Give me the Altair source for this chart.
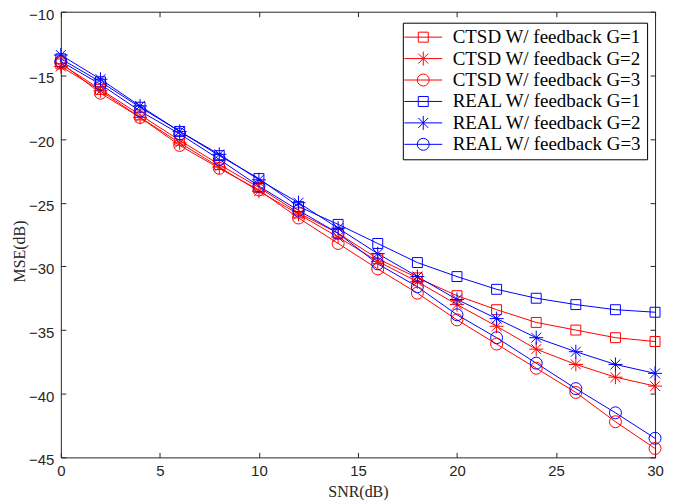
import altair as alt
import pandas as pd

snr = [0, 2, 4, 6, 8, 10, 12, 14, 16, 18, 20, 22, 24, 26, 28, 30]
ctsd_g1 = [-14.1, -16.1, -18.1, -20.1, -22.0, -23.8, -25.8, -27.4, -29.4, -30.9, -32.3, -33.4, -34.4, -35.0, -35.6, -35.9]
ctsd_g2 = [-14.3, -16.2, -18.3, -20.3, -22.2, -24.1, -25.9, -27.7, -29.6, -31.2, -33.0, -34.7, -36.5, -37.7, -38.7, -39.4]
ctsd_g3 = [-14.0, -16.4, -18.3, -20.5, -22.3, -24.0, -26.2, -28.2, -30.2, -32.1, -34.2, -36.1, -38.0, -39.9, -42.2, -44.3]
real_g1 = [-13.7, -15.5, -17.5, -19.4, -21.3, -23.1, -25.3, -26.7, -28.2, -29.7, -30.8, -31.8, -32.5, -33.0, -33.4, -33.6]
real_g2 = [-13.4, -15.3, -17.4, -19.4, -21.2, -23.2, -25.0, -27.0, -29.0, -30.8, -32.6, -34.1, -35.6, -36.7, -37.7, -38.4]
real_g3 = [-13.9, -15.7, -17.8, -19.6, -21.6, -23.7, -25.6, -27.4, -29.8, -31.6, -33.8, -35.6, -37.6, -39.6, -41.5, -43.5]

series_names = [
    "CTSD W/ feedback G=1",
    "CTSD W/ feedback G=2",
    "CTSD W/ feedback G=3",
    "REAL W/ feedback G=1",
    "REAL W/ feedback G=2",
    "REAL W/ feedback G=3",
]
series_g = [1, 2, 3, 1, 2, 3]
series_values = [ctsd_g1, ctsd_g2, ctsd_g3, real_g1, real_g2, real_g3]
series_colors = ["#ff0000", "#ff0000", "#ff0000", "#0000ff", "#0000ff", "#0000ff"]

x_ticks = [0, 5, 10, 15, 20, 25, 30]
y_ticks = [-45, -40, -35, -30, -25, -20, -15, -10]

rows = []
for name, g, vals in zip(series_names, series_g, series_values):
    for s, v in zip(snr, vals):
        rows.append({"snr": s, "mse": v, "series": name, "g": g})
df = pd.DataFrame(rows)

# marker paths (unit scaled by sqrt(size)/2), size 144 -> 6 px per unit
SQ = "M-0.83,-0.83L0.83,-0.83L0.83,0.83L-0.83,0.83Z"
ST = "M-1.17,0L1.17,0M0,-1.17L0,1.17M-0.83,-0.83L0.83,0.83M-0.83,0.83L0.83,-0.83"
CI = "M1,0A1,1,0,1,1,-1,0A1,1,0,1,1,1,0"
marker_by_g = {1: SQ, 2: ST, 3: CI}

# legend symbols: line + marker (symbolSize 100 -> 5 px per unit)
LSQ = "M-3.8,0L3.8,0M-1,-1L1,-1L1,1L-1,1Z"
LST = "M-3.8,0L3.8,0M0,-1.4L0,1.4M-1,-1L1,1M-1,1L1,-1"
LCI = "M-3.8,0L3.8,0M1.2,0A1.2,1.2,0,1,1,-1.2,0A1.2,1.2,0,1,1,1.2,0"
shape_expr = (
    "substring(datum.value, length(datum.value)-1) == '1' ? '" + LSQ + "' : "
    "(substring(datum.value, length(datum.value)-1) == '2' ? '" + LST + "' : '" + LCI + "')"
)

W, H = 596, 447

xscale = alt.Scale(domain=[0, 30], nice=False, zero=False)
yscale = alt.Scale(domain=[-45, -10], nice=False, zero=False)
color_scale = alt.Scale(domain=series_names, range=series_colors)

legend = alt.Legend(
    title=None,
    orient="none",
    legendX=343,
    legendY=11,
    symbolSize=100,
    symbolStrokeWidth=1,
    symbolType={"expr": shape_expr},
    symbolFillColor="transparent",
    symbolOffset=6,
    labelFont="Liberation Serif",
    labelFontSize=19,
    labelColor="#000000",
    labelOffset=20,
    labelLimit=300,
    strokeColor="#000000",
    fillColor="#ffffff",
    padding=5,
    rowPadding=1.5,
)

label_axis_x = alt.Axis(
    orient="bottom", values=x_ticks, tickSize=0, domain=False, grid=False, labelFlush=False,
    labelFont="Liberation Sans", labelFontSize=15, labelColor="#262626", labelPadding=6,
    title="SNR(dB)", titleFont="Liberation Serif", titleFontSize=16, titleFontWeight="normal",
    titleColor="#262626", titleY=34, titleBaseline="middle",
)
label_axis_y = alt.Axis(
    orient="left", values=y_ticks, tickSize=0, domain=False, grid=False, labelFlush=False,
    labelFont="Liberation Sans", labelFontSize=15, labelColor="#262626", labelPadding=7,
    labelOffset=2.5,
    title="MSE(dB)", titleFont="Liberation Serif", titleFontSize=16, titleFontWeight="normal",
    titleColor="#262626", titleX=-41, titleY=240, titleBaseline="middle", titleAlign="center",
)

lines = alt.Chart(df).mark_line(strokeWidth=1).encode(
    x=alt.X("snr:Q", scale=xscale, axis=label_axis_x),
    y=alt.Y("mse:Q", scale=yscale, axis=label_axis_y),
    color=alt.Color("series:N", scale=color_scale, legend=legend),
    detail="series:N",
)

point_layers = []
for g in [1, 2, 3]:
    point_layers.append(
        alt.Chart(df)
        .transform_filter(alt.datum.g == g)
        .mark_point(filled=False, strokeWidth=1, size=144, opacity=1, shape=marker_by_g[g])
        .encode(
            x=alt.X("snr:Q", scale=xscale, axis=None),
            y=alt.Y("mse:Q", scale=yscale, axis=None),
            stroke=alt.Stroke("series:N", scale=color_scale, legend=None),
        )
    )

tick_common = dict(labels=False, domain=False, grid=False, title=None, tickSize=5,
                   tickColor="#262626", tickWidth=1)

ticks_a = alt.Chart(df).mark_point(opacity=0).encode(
    x=alt.X("snr:Q", scale=xscale, axis=alt.Axis(orient="top", offset=-H, values=x_ticks, **tick_common)),
    y=alt.Y("mse:Q", scale=yscale, axis=alt.Axis(orient="right", offset=-W, values=y_ticks, **tick_common)),
)
ticks_b = alt.Chart(df).mark_point(opacity=0).encode(
    x=alt.X("snr:Q", scale=xscale, axis=alt.Axis(orient="bottom", offset=-H, values=x_ticks, **tick_common)),
    y=alt.Y("mse:Q", scale=yscale, axis=alt.Axis(orient="left", offset=-W, values=y_ticks, **tick_common)),
)

chart = (
    alt.layer(lines, *point_layers, ticks_a, ticks_b)
    .resolve_axis(x="independent", y="independent")
    .properties(
        width=W,
        height=H,
        padding={"left": 53, "top": 3, "right": 20, "bottom": 42},
        autosize=alt.AutoSizeParams(type="none"),
        background="#ffffff",
    )
    .configure_view(stroke="#262626", strokeWidth=1)
)

chart.save("out.html", embed_options={"renderer": "svg", "actions": False})
